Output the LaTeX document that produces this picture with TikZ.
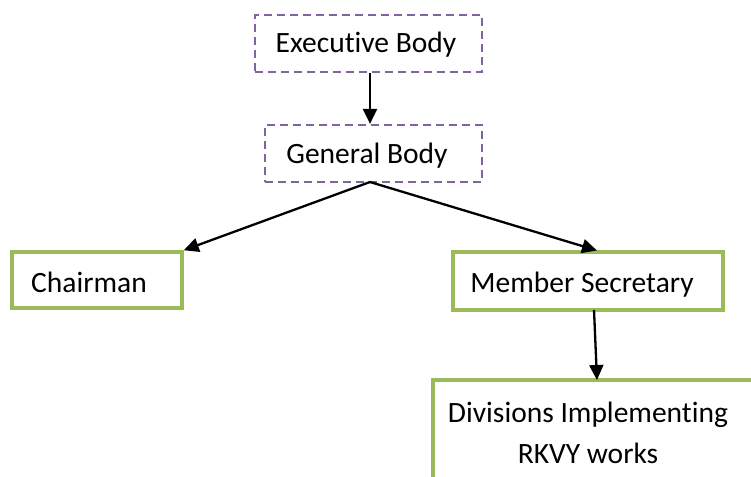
\documentclass[tikz,border=0pt]{standalone}
\usepackage{fontspec}
\setmainfont[Ligatures={NoCommon,NoContextual,NoRare},RawFeature={-liga;-clig;-calt;-dlig}]{Carlito}
\usetikzlibrary{arrows.meta}
\definecolor{lpurple}{HTML}{8064A2}
\definecolor{lgreen}{HTML}{9BBB59}
\begin{document}
\begin{tikzpicture}[x=1pt,y=-1pt,
  pbox/.style={draw=lpurple,line width=2.2pt,dash pattern=on 8pt off 5pt,inner sep=0pt},
  gbox/.style={draw=lgreen,line width=3.5pt,inner sep=0pt},
  lbl/.style={anchor=base,inner sep=0pt,font=\fontsize{29.5}{35}\selectfont},
  conn/.style={line width=2.3pt,-{Triangle[length=15pt,width=14pt]}}]
\useasboundingbox (0,0) rectangle (751,476);
\begin{scope}
\clip (0,0) rectangle (751,476);
\node[pbox,minimum width=227pt,minimum height=57pt] (exec) at (368.5,43.5) {};
\node[pbox,minimum width=217pt,minimum height=57pt] (gen) at (373.5,153.5) {};
\node[gbox,minimum width=170pt,minimum height=56pt] (chair) at (97,280) {};
\node[gbox,minimum width=270pt,minimum height=58pt] (memb) at (588,281) {};
\node[gbox,minimum width=330pt,minimum height=120pt] (div) at (598,440) {};
\end{scope}
\node[lbl] (t1) at (366,53) {Executive Body};
\node[lbl] (t2) at (367,163) {General Body};
\node[lbl] (t3) at (89,292) {Chairman};
\node[lbl] (t4) at (582,292) {Member Secretary};
\node[lbl] (t5) at (588,422) {Divisions Implementing};
\node[lbl] (t6) at (588,463) {RKVY works};
\draw[conn] (exec.south -| 370,0) -- (gen.north -| 370,0);
\coordinate (gb) at (370,182);
\draw[conn] (gb) -- (chair.north east);
\draw[conn] (gb) -- (597,250.5);
\draw[conn] (594,310) -- (597,380);
\end{tikzpicture}
\end{document}
